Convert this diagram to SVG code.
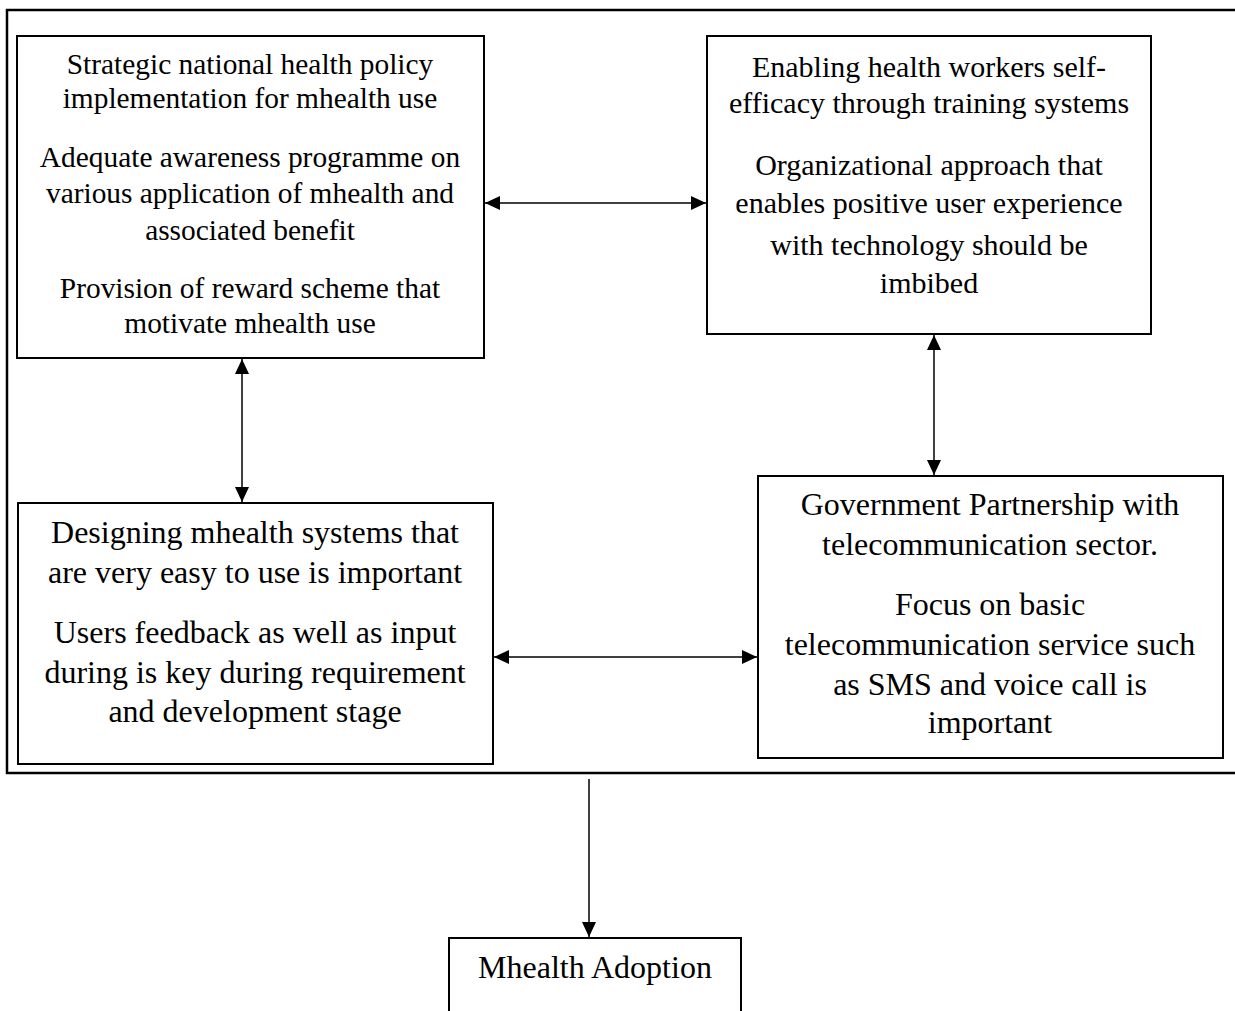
<svg xmlns="http://www.w3.org/2000/svg" width="1235" height="1011" viewBox="0 0 1235 1011">
<style>
.box{fill:#fff;stroke:#000;stroke-width:2}
.frame{fill:none;stroke:#000;stroke-width:2.5}
text{font-family:"Liberation Serif","Times New Roman",serif;font-size:32px;fill:#000;text-anchor:middle}
#n1 text{font-size:29.4px}
#n2 text{font-size:30px}
.c{stroke:#000;stroke-width:1.5;fill:none}
</style>
<defs>
<marker id="ah" viewBox="0 0 15 14" refX="15" refY="7" markerWidth="15" markerHeight="14" markerUnits="userSpaceOnUse" orient="auto-start-reverse">
<path d="M0,0 L15,7 L0,14 Z" fill="#000"/>
</marker>
</defs>
<rect class="frame" x="7" y="10" width="1240" height="763"/>
<g id="n1">
<rect class="box" x="17" y="36" width="467" height="322"/>
<text x="250" y="74">Strategic national health policy</text>
<text x="250" y="108">implementation for mhealth use</text>
<text x="250" y="167">Adequate awareness programme on</text>
<text x="250" y="203">various application of mhealth and</text>
<text x="250" y="240">associated benefit</text>
<text x="250" y="298">Provision of reward scheme that</text>
<text x="250" y="333">motivate mhealth use</text>
</g>
<g id="n2">
<rect class="box" x="707" y="36" width="444" height="298"/>
<text x="929" y="77">Enabling health workers self-</text>
<text x="929" y="113">efficacy through training systems</text>
<text x="929" y="175">Organizational approach that</text>
<text x="929" y="213">enables positive user experience</text>
<text x="929" y="255">with technology should be</text>
<text x="929" y="293">imbibed</text>
</g>
<g id="n3">
<rect class="box" x="18" y="503" width="475" height="261"/>
<text x="255" y="543">Designing mhealth systems that</text>
<text x="255" y="583">are very easy to use is important</text>
<text x="255" y="643">Users feedback as well as input</text>
<text x="255" y="683">during is key during requirement</text>
<text x="255" y="722">and development stage</text>
</g>
<g id="n4">
<rect class="box" x="758" y="476" width="465" height="282"/>
<text x="990" y="515">Government Partnership with</text>
<text x="990" y="555">telecommunication sector.</text>
<text x="990" y="615">Focus on basic</text>
<text x="990" y="655">telecommunication service such</text>
<text x="990" y="695">as SMS and voice call is</text>
<text x="990" y="733">important</text>
</g>
<g id="n5">
<rect class="box" x="449" y="938" width="292" height="90"/>
<text x="595" y="978">Mhealth Adoption</text>
</g>
<g id="connectors">
<line class="c" x1="485" y1="203" x2="706" y2="203" marker-start="url(#ah)" marker-end="url(#ah)"/>
<line class="c" x1="242" y1="359" x2="242" y2="502" marker-start="url(#ah)" marker-end="url(#ah)"/>
<line class="c" x1="934" y1="335" x2="934" y2="475" marker-start="url(#ah)" marker-end="url(#ah)"/>
<line class="c" x1="494" y1="657" x2="757" y2="657" marker-start="url(#ah)" marker-end="url(#ah)"/>
<line class="c" x1="589" y1="779" x2="589" y2="937" marker-end="url(#ah)"/>
</g>
</svg>
